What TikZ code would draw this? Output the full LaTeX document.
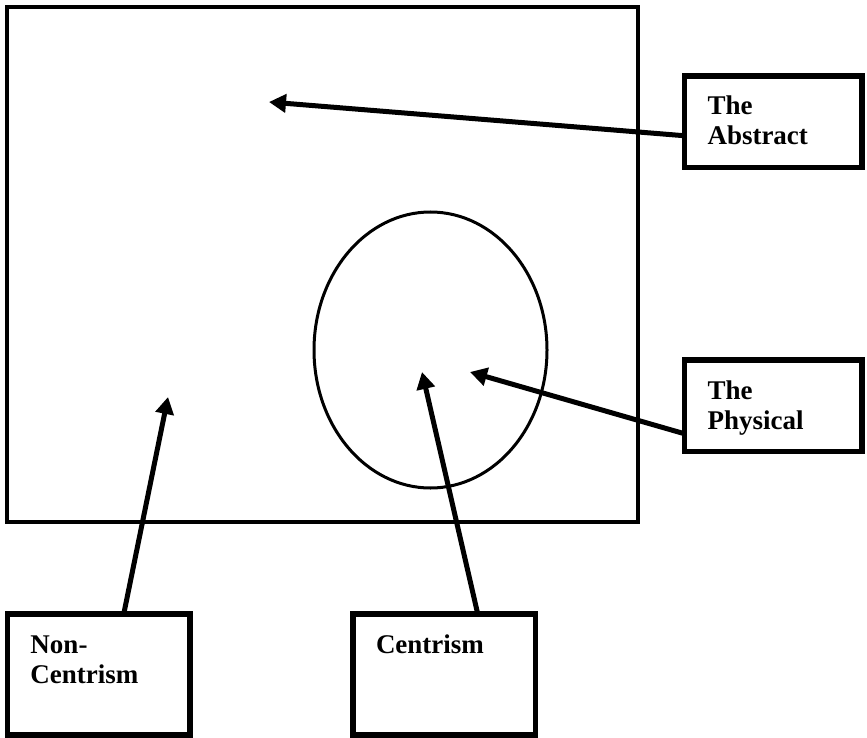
\documentclass[tikz,border=0pt]{standalone}
\usepackage{fontspec}
\setmainfont{Liberation Serif}
\usetikzlibrary{arrows.meta}

\begin{document}
\begin{tikzpicture}[x=1pt,y=-1pt,
  label box/.style={draw,line width=5.5pt,outer sep=0pt,anchor=north west,align=left,
    inner xsep=23pt,inner ysep=0pt,text height=39pt,
    font=\bfseries\fontsize{27}{30}\selectfont},
  side box/.style={label box,text width=131.5pt,text depth=52.5pt},
  foot box/.style={label box,text width=136.5pt,text depth=82pt},
  arrow/.style={-{Triangle[length=17pt,width=18pt]},line width=5pt}
]
\useasboundingbox (0,0) rectangle (867,738);
% frame and oval
\draw[line width=4pt] (7,7) rectangle (638,522);
\draw[line width=3pt] (430.5,350) ellipse [x radius=116.5pt,y radius=138pt];
% labels
\node[side box] (abstract) at (684.5,76) {The\\Abstract};
\node[side box] (physical) at (684.5,360) {The\\Physical};
\node[foot box] (noncentrism) at (7.5,614) {Non-\\Centrism};
\node[foot box] (centrism) at (353,614) {Centrism};
% arrow tips
\coordinate (abstracttip) at (269,102);
\coordinate (physicaltip) at (470,372);
\coordinate (noncentrismtip) at (168,397);
\coordinate (centrismtip) at (422,372);
\draw[arrow] ([yshift=-14pt]abstract.west) -- (abstracttip);
\draw[arrow] ([yshift=-28pt]physical.west) -- (physicaltip);
\draw[arrow] ([xshift=25pt]noncentrism.north) -- (noncentrismtip);
\draw[arrow] ([xshift=33.5pt]centrism.north) -- (centrismtip);
\end{tikzpicture}
\end{document}
